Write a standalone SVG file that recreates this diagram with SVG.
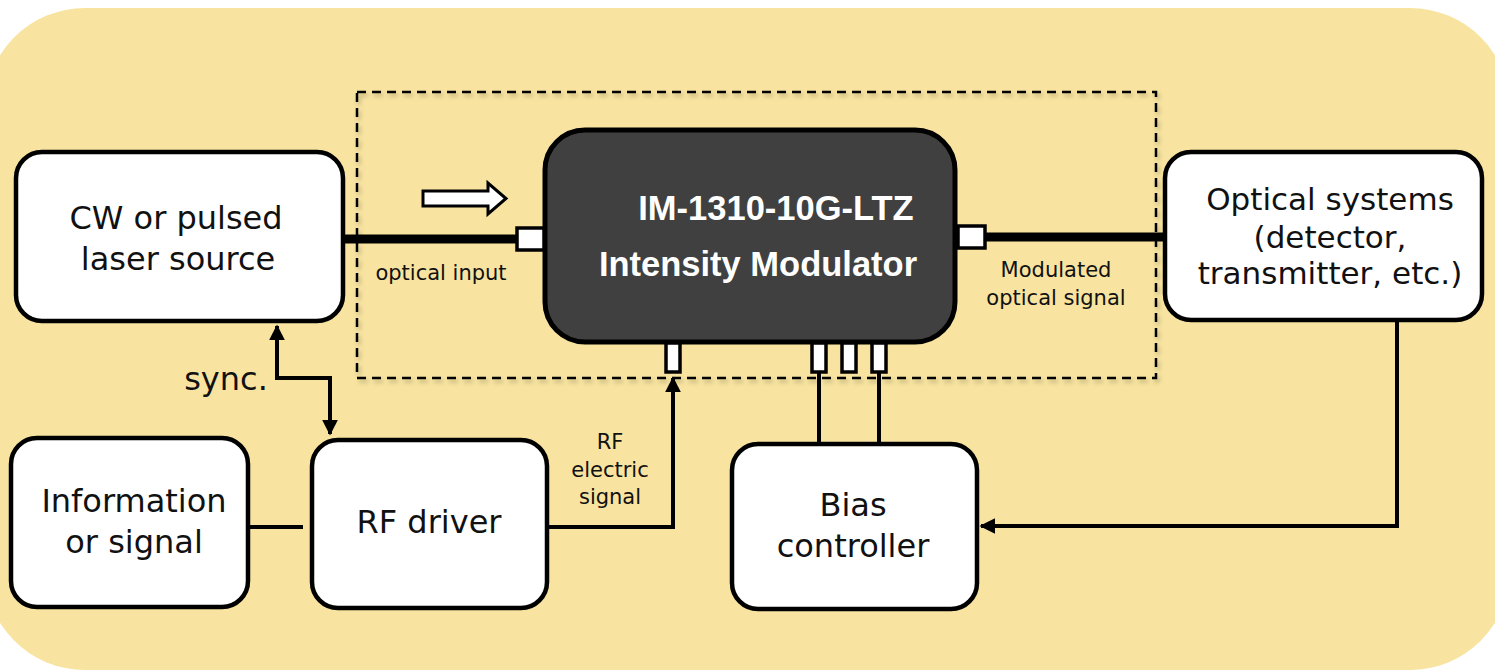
<svg xmlns="http://www.w3.org/2000/svg" width="1495" height="670" viewBox="0 0 1495 670">
<style>
.node{fill:#ffffff;stroke:#000;stroke-width:4.5}
.lbl{font-family:"DejaVu Sans","Liberation Sans",sans-serif;font-size:32px;fill:#111;text-anchor:middle}
.small{font-family:"DejaVu Sans","Liberation Sans",sans-serif;font-size:21px;fill:#111;text-anchor:middle}
.mod{font-family:"Liberation Sans",Arial,sans-serif;font-weight:bold;font-size:34.5px;fill:#fff;text-anchor:middle}
.fiber{stroke:#000;stroke-width:9;fill:none}
.wire{stroke:#000;stroke-width:4;fill:none}
.port{fill:#fff;stroke:#000;stroke-width:3.5}
</style>
<defs>
<marker id="arr" viewBox="0 0 10 10" refX="9" refY="5" markerWidth="4" markerHeight="4" orient="auto-start-reverse">
<path d="M0,0 L10,5 L0,10 z" fill="#000"/>
</marker>
<filter id="sh" x="-5%" y="-5%" width="110%" height="110%">
<feDropShadow dx="2" dy="3" stdDeviation="2" flood-color="#000" flood-opacity="0.25"/>
</filter>
</defs>
<rect x="-15" y="8" width="1525" height="662" rx="100" fill="#F8E4A0"/>
<g id="module-frame">
<rect x="357" y="92" width="799" height="286" fill="none" stroke="#000" stroke-width="2.5" stroke-dasharray="9,6" filter="url(#sh)"/>
</g>
<g id="connectors">
<line class="fiber" x1="343" y1="239" x2="517" y2="239"/>
<line class="fiber" x1="984" y1="237" x2="1166" y2="237"/>
<polyline class="wire" points="277,326 277,378 330,378 330,434" marker-start="url(#arr)" marker-end="url(#arr)" stroke-width="3"/>
<line class="wire" x1="248" y1="527" x2="303" y2="527" stroke-width="5"/>
<polyline class="wire" points="547,527 673,527 673,378" marker-end="url(#arr)"/>
<line class="wire" x1="819" y1="372" x2="819" y2="445"/>
<line class="wire" x1="879" y1="372" x2="879" y2="445"/>
<polyline class="wire" points="1397,320 1397,526 981,526" marker-end="url(#arr)"/>
<path d="M423,191 H488 V183 L506,198.5 L488,214 V206 H423 Z" fill="#fff" stroke="#000" stroke-width="3"/>
</g>
<g id="cw-laser">
<rect class="node" x="16" y="152" width="327" height="169" rx="26"/>
<text class="lbl" x="176" y="229">CW or pulsed</text>
<text class="lbl" x="178" y="270">laser source</text>
</g>
<g id="modulator">
<rect x="545" y="130" width="410" height="212" rx="40" fill="#404040" stroke="#000" stroke-width="5"/>
<text class="mod" x="776" y="220">IM-1310-10G-LTZ</text>
<text class="mod" x="758" y="276">Intensity Modulator</text>
<rect class="port" x="517" y="228" width="27" height="22"/>
<rect class="port" x="958" y="226" width="27" height="22"/>
<rect class="port" x="666" y="343" width="14" height="29"/>
<rect class="port" x="812" y="343" width="14" height="29"/>
<rect class="port" x="842" y="343" width="14" height="29"/>
<rect class="port" x="872" y="343" width="14" height="29"/>
</g>
<g id="optical-systems">
<rect class="node" x="1165" y="152" width="317" height="168" rx="26"/>
<text class="lbl" x="1330" y="210" style="font-size:31px">Optical systems</text>
<text class="lbl" x="1330" y="248" style="font-size:31px">(detector,</text>
<text class="lbl" x="1330" y="284" style="font-size:31px">transmitter, etc.)</text>
</g>
<g id="information">
<rect class="node" x="11" y="438" width="237" height="169" rx="26"/>
<text class="lbl" x="134" y="512">Information</text>
<text class="lbl" x="134" y="553">or signal</text>
</g>
<g id="rf-driver">
<rect class="node" x="312" y="440" width="235" height="168" rx="26"/>
<text class="lbl" x="429" y="533">RF driver</text>
</g>
<g id="bias-controller">
<rect class="node" x="732" y="444" width="245" height="165" rx="26"/>
<text class="lbl" x="853" y="516">Bias</text>
<text class="lbl" x="853" y="557">controller</text>
</g>
<g id="labels">
<text class="small" x="441" y="280">optical input</text>
<text class="small" x="1056" y="277">Modulated</text>
<text class="small" x="1056" y="305">optical signal</text>
<text class="small" x="610" y="449">RF</text>
<text class="small" x="610" y="477">electric</text>
<text class="small" x="610" y="504">signal</text>
<text class="lbl" x="226" y="390">sync.</text>
</g>
</svg>
